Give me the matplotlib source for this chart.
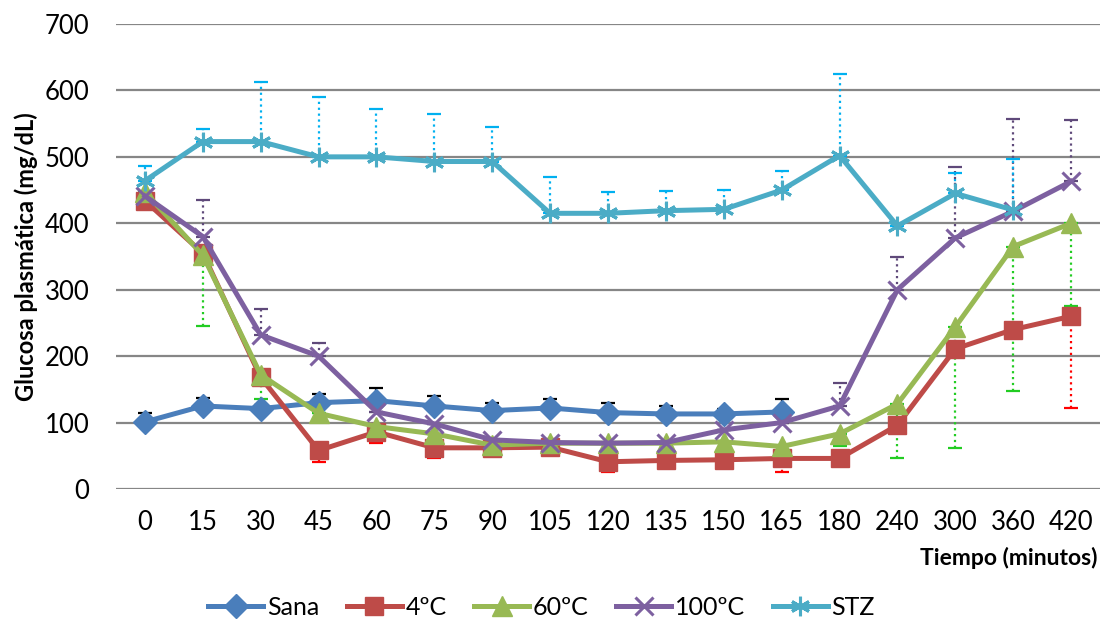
import matplotlib.pyplot as plt
import numpy as np

plt.rcParams['font.family'] = ['Lato', 'DejaVu Sans']

tiempos = ['0', '15', '30', '45', '60', '75', '90', '105', '120', '135',
           '150', '165', '180', '240', '300', '360', '420']
nan = np.nan

sana = [101, 125, 121, 130, 133, 125, 118, 122, 115, 113, 113, 116,
        nan, nan, nan, nan, nan]
sana_err = [13, 12, 5, 13, 19, 15, 11, 14, 14, 12, 8, 20,
            0, 0, 0, 0, 0]

t4 = [434, 355, 168, 58, 86, 62, 62, 63, 41, 43, 44, 46, 46, 96, 211, 240, 260]
t4_err = [0, 0, 0, 17, 17, 15, 0, 0, 15, 0, 0, 20, 0, 0, 0, 0, 138]

t60 = [447, 352, 172, 114, 94, 83, 66, 69, 69, 69, 71, 64, 83, 128, 244, 365, 400]
t60_err = [0, 107, 36, 0, 0, 0, 0, 0, 0, 0, 0, 0, 18, 81, 182, 217, 125]

t100 = [441, 380, 232, 200, 116, 98, 74, 70, 69, 70, 89, 100, 125, 300, 378, 418, 463]
t100_err = [5, 55, 39, 20, 0, 0, 0, 0, 0, 0, 0, 0, 34, 49, 106, 139, 93]

stz = [464, 523, 523, 500, 500, 493, 493, 415, 415, 419, 421, 450, 502, 396,
       445, 420, nan]
stz_err = [22, 19, 89, 90, 72, 72, 52, 54, 32, 30, 29, 29, 122, 0, 30, 77, 0]

# name, values, error, error direction, line colour, marker, error colour, error style
series = [
    ('Sana', sana, sana_err, 'up', '#4A7EBB', 'D', 12, 'black', '-'),
    ('4ºC', t4, t4_err, 'down', '#BE4B48', 's', 13.5, '#FF0000', ':'),
    ('60ºC', t60, t60_err, 'down', '#98B954', '^', 14.5, '#22CC22', ':'),
    ('100ºC', t100, t100_err, 'up', '#7D60A0', 'x', 13, '#5F497A', ':'),
    ('STZ', stz, stz_err, 'up', '#4BACC6', (6, 2, 0), 14, '#00B0F0', ':'),
]

fig = plt.figure(figsize=(11.01, 6.21), dpi=100)
ax = fig.add_axes([116 / 1101, 132 / 621, 984 / 1101, 465 / 621])

x = np.arange(len(tiempos))

for name, vals, err, direction, color, marker, ms, ecolor, els in series:
    vals = np.array(vals, dtype=float)
    err = np.array(err, dtype=float)
    zeros = np.zeros_like(err)
    yerr = [zeros, err] if direction == 'up' else [err, zeros]
    eb = ax.errorbar(x, vals, yerr=yerr, fmt='none', ecolor=ecolor,
                     elinewidth=1.6, capsize=5, capthick=1.6, zorder=2)
    for lc in eb.lines[2]:
        lc.set_linestyle(els)
    if marker in ('x', (6, 2, 0)):
        ax.plot(x, vals, color=color, lw=3.6, marker=marker, ms=ms,
                mew=2.2, mec=color, label=name, zorder=3)
    else:
        ax.plot(x, vals, color=color, lw=3.6, marker=marker, ms=ms,
                mec=color, mfc=color, label=name, zorder=3)

ax.set_xlim(-0.5, len(tiempos) - 0.5)
ax.set_ylim(0, 700)
ax.set_yticks(range(0, 701, 100))
ax.set_xticks(x)
ax.set_xticklabels(tiempos)
ax.tick_params(axis='both', length=0, labelsize=18.5)
ax.tick_params(axis='y', pad=19)
ax.tick_params(axis='x', pad=15)
ax.grid(axis='y', color='#868686', lw=1.6, zorder=0)
ax.set_axisbelow(True)
for s in ax.spines.values():
    s.set_visible(False)

fig.text(0.024, 0.586, 'Glucosa plasmática (mg/dL)', rotation=90,
         ha='center', va='center', fontsize=17, fontweight='bold')
fig.text(0.997, 0.101, 'Tiempo (minutos)', ha='right', va='center',
         fontsize=16.5, fontweight='bold')

fig.legend(loc='center', bbox_to_anchor=(0.492, 0.022), ncol=5,
           frameon=False, fontsize=18, handlelength=2.2, columnspacing=1.1,
           handletextpad=0.15, borderaxespad=0)

fig.savefig('out.png', dpi=100)
